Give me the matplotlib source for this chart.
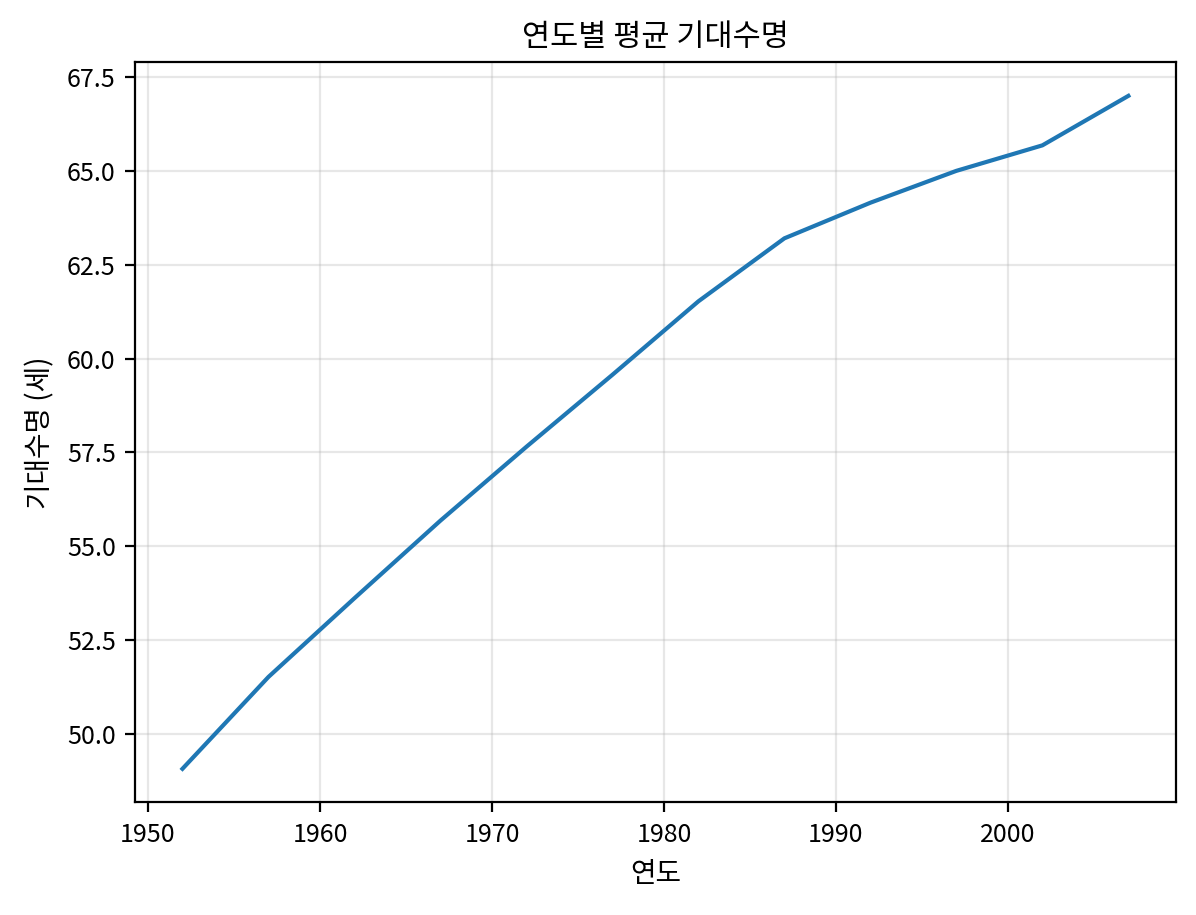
import numpy as np
import matplotlib
matplotlib.use("Agg")
import matplotlib.pyplot as plt

plt.rcParams['font.family'] = ['Noto Sans CJK KR', 'DejaVu Sans']
plt.rcParams['axes.unicode_minus'] = False

# 연도별 평균 기대수명 (gapminder)
years = [1952, 1957, 1962, 1967, 1972, 1977, 1982, 1987, 1992, 1997, 2002, 2007]
life_exp = [49.06, 51.51, 53.61, 55.68, 57.65, 59.57, 61.53, 63.21, 64.16, 65.01, 65.69, 67.01]

fig, ax = plt.subplots(figsize=(5.98, 4.575), dpi=200)
ax.plot(years, life_exp, color='#1f77b4', linewidth=1.5)
ax.set_title('연도별 평균 기대수명', fontsize=11)
ax.set_xlabel('연도', fontsize=10)
ax.set_ylabel('기대수명 (세)', fontsize=10)
ax.tick_params(labelsize=9)
ax.grid(True, alpha=0.3)
plt.subplots_adjust(left=0.113, right=0.983, top=0.932, bottom=0.123)
plt.savefig('out.png', dpi=200)
